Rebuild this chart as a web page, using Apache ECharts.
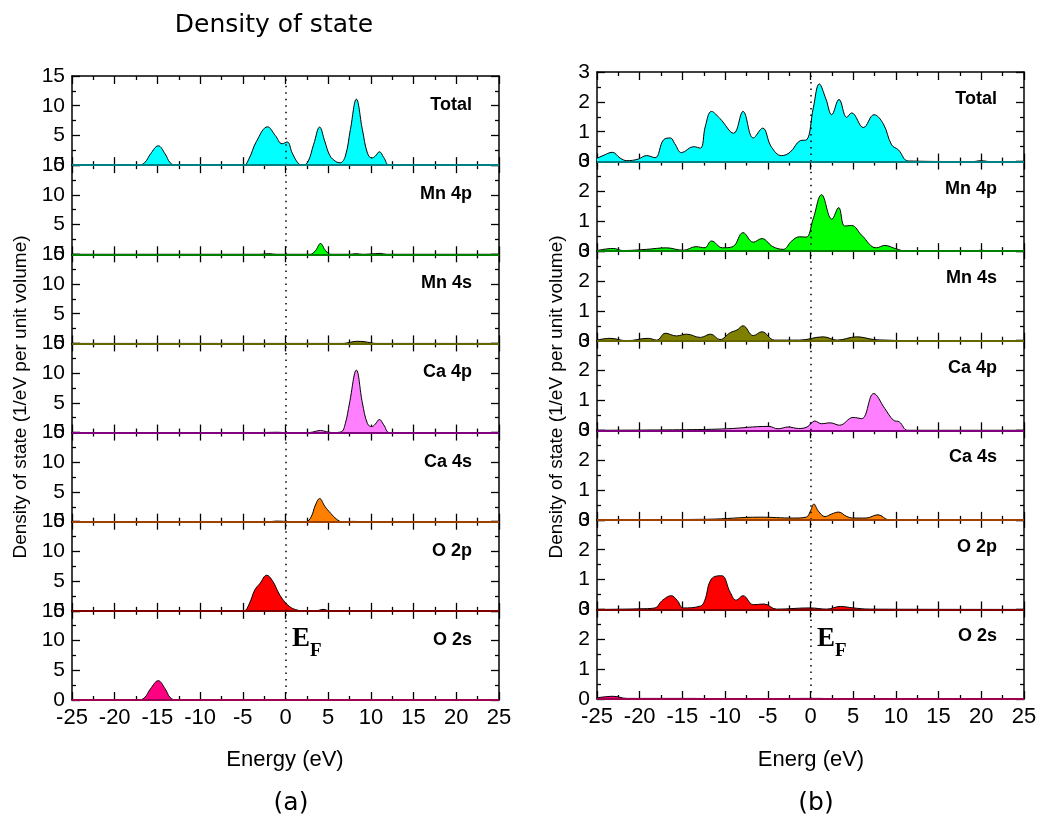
<!DOCTYPE html>
<html>
<head>
<meta charset="utf-8">
<title>Density of state</title>
<script src="https://cdn.jsdelivr.net/npm/echarts@6/dist/echarts.min.js"></script>
<style>
    html, body { margin: 0; padding: 0; background: #fff; }
    #main { width: 1043px; height: 819px; }
</style>
</head>
<body>
<div id="main"></div>
<script>
// 分波态密度 数据 ===================
var rowNames = ['Total', 'Mn 4p', 'Mn 4s', 'Ca 4p', 'Ca 4s', 'O 2p', 'O 2s']
var energyRange = [-25, 25]
var yRangeA = [0, 15]
var yRangeB = [0, 3]

// (a)
var totalA = [[-25, 0], [-17.2, 0], [-16.5, 0.4], [-15.8, 1.9], [-14.9, 3.25], [-14.1, 1.9], [-13.5, 0.4], [-12.8, 0],
    [-4.9, 0], [-4.3, 1.0], [-3.4, 4.0], [-2.1, 6.45], [-1.2, 5.0], [-0.4, 3.6], [0.2, 3.9], [0.8, 2.0], [1.5, 0.3], [2.0, 0],
    [2.6, 0.5], [3.3, 3.5], [4.0, 6.4], [4.6, 4.0], [5.2, 1.6], [5.9, 0.6], [6.4, 0.4], [7.0, 1.5], [7.6, 6.0], [8.3, 11.1],
    [9.0, 6.0], [9.6, 2.0], [10.1, 1.2], [10.5, 1.5], [11.0, 2.25], [11.5, 1.3], [12.2, 0], [25, 0]]
var mn4pA = [[-25, 0], [-3, 0], [-2, 0.1], [-1, 0], [2.9, 0], [3.5, 0.6], [4.1, 1.8], [4.7, 0.6], [5.3, 0],
    [7.5, 0], [8.3, 0.1], [9, 0], [10.5, 0.1], [11.1, 0.15], [11.8, 0], [25, 0]]
var mn4sA = [[-25, 0], [6.8, 0], [7.6, 0.2], [8.3, 0.35], [9.2, 0.3], [10, 0.1], [10.6, 0], [25, 0]]
var ca4pA = [[-25, 0], [-3, 0], [-1, 0.05], [0, 0], [2.8, 0], [3.5, 0.2], [4.1, 0.35], [4.8, 0.15], [5.5, 0],
    [6.5, 0.1], [7.0, 1.5], [7.5, 5.0], [8.3, 10.5], [9.0, 5.0], [9.6, 1.5], [10.1, 1.0], [10.5, 1.4], [11.0, 2.2],
    [11.5, 1.3], [12.2, 0], [25, 0]]
var ca4sA = [[-25, 0], [-2, 0], [-1, 0.1], [0, 0.05], [0.5, 0], [2.4, 0], [3.0, 0.8], [3.5, 2.8], [4.0, 3.9],
    [4.6, 2.6], [5.3, 1.4], [6.0, 0.4], [6.6, 0], [8, 0.05], [9, 0], [25, 0]]
var o2pA = [[-25, 0], [-4.9, 0], [-4.3, 1.0], [-3.6, 3.5], [-3.0, 4.6], [-2.2, 6.0], [-1.5, 5.0], [-0.8, 3.0],
    [-0.2, 1.7], [0.5, 0.7], [1.2, 0.2], [2.0, 0], [3.6, 0], [4.4, 0.25], [5.2, 0], [25, 0]]
var o2sA = [[-25, 0], [-17.2, 0], [-16.5, 0.4], [-15.8, 1.9], [-14.9, 3.25], [-14.1, 1.9], [-13.5, 0.4], [-12.8, 0], [25, 0]]

// (b)
var totalB = [[-25, 0.11], [-24.3, 0.2], [-23.2, 0.31], [-22.3, 0.12], [-21.5, 0.03], [-20.2, 0.08], [-19.2, 0.2],
    [-18.2, 0.13], [-17.2, 0.73], [-16.4, 0.79], [-15.9, 0.6], [-15.1, 0.3], [-13.7, 0.5], [-12.9, 0.45], [-12.3, 1.2],
    [-11.6, 1.68], [-10.6, 1.44], [-9.0, 0.95], [-7.9, 1.68], [-6.7, 0.79], [-5.6, 1.12], [-4.6, 0.5], [-3.4, 0.2],
    [-2.4, 0.31], [-1.2, 0.7], [-0.45, 0.73], [0.33, 1.8], [1.03, 2.6], [1.8, 2.1], [2.48, 1.57], [3.34, 2.08],
    [4.24, 1.48], [4.82, 1.63], [6.19, 1.14], [7.44, 1.57], [8.53, 1.26], [9.5, 0.56], [10.3, 0.39], [11.47, 0.02],
    [19, 0], [20, 0.03], [21, 0], [25, 0]]
var mn4pB = [[-25, 0.02], [-23.1, 0.09], [-22, 0.02], [-19.2, 0.06], [-16.9, 0.11], [-14.9, 0.03], [-13.4, 0.15],
    [-12.4, 0.11], [-11.6, 0.34], [-10.3, 0.11], [-9.1, 0.15], [-7.9, 0.62], [-6.7, 0.30], [-5.7, 0.42], [-4.4, 0.15],
    [-3.2, 0.06], [-2.2, 0.34], [-1.3, 0.48], [-0.5, 0.47], [0.3, 1.07], [1.3, 1.89], [2.5, 1.07], [3.3, 1.46],
    [4.0, 0.84], [4.8, 0.86], [6.0, 0.53], [7.7, 0.11], [8.7, 0.19], [10.0, 0.08], [11.2, 0], [19, 0], [20, 0.03],
    [21, 0], [25, 0]]
var mn4sB = [[-25, 0.02], [-23.5, 0.08], [-21.5, 0], [-19, 0.08], [-18, 0.02], [-17, 0.25], [-15.7, 0.16],
    [-14.5, 0.22], [-12.9, 0.11], [-11.7, 0.22], [-10.6, 0.04], [-9.4, 0.27], [-8.6, 0.36], [-7.9, 0.5], [-6.7, 0.17],
    [-5.7, 0.3], [-4.2, 0.02], [-1.3, 0.02], [1.5, 0.13], [3.1, 0.02], [5.4, 0.13], [7.4, 0.04], [8.9, 0.02],
    [11.2, 0], [25, 0]]
var ca4pB = [[-25, 0], [-14.5, 0.02], [-9.8, 0.05], [-4.9, 0.13], [-3.8, 0.05], [-2.6, 0.11], [-1.4, 0.06],
    [-0.4, 0.11], [0.5, 0.31], [1.3, 0.22], [2.3, 0.25], [3.4, 0.17], [5.0, 0.43], [6.0, 0.39], [7.4, 1.23],
    [8.7, 0.73], [9.7, 0.34], [10.4, 0.28], [11.4, 0], [25, 0]]
var ca4sB = [[-25, 0], [-12.1, 0.02], [-5.9, 0.09], [-2.0, 0.06], [-0.5, 0.09], [0, 0.3], [0.4, 0.53], [0.9, 0.3],
    [1.7, 0.11], [2.5, 0.2], [3.3, 0.26], [4.2, 0.12], [5.0, 0.06], [6.5, 0.06], [7.9, 0.17], [9.2, 0], [25, 0]]
var o2pB = [[-25, 0], [-20, 0.02], [-18.2, 0.05], [-17.4, 0.29], [-16.3, 0.46], [-15.6, 0.3], [-14.9, 0.05],
    [-12.9, 0.11], [-12.4, 0.29], [-11.6, 1.02], [-10.4, 1.13], [-9.4, 0.57], [-8.7, 0.31], [-7.9, 0.46],
    [-6.7, 0.16], [-5.4, 0.18], [-4.0, 0.01], [-0.05, 0.05], [1.9, 0.01], [3.5, 0.1], [5.0, 0.05], [7.0, 0.01], [25, 0]]
var o2sB = [[-25, 0.04], [-23.1, 0.09], [-21.5, 0.02], [-14.5, 0.02], [-9.8, 0.01], [1.1, 0.02], [3.1, 0], [25, 0]]

// 颜色: 填充 / 底线
var fills = ['#00ffff', '#00ff00', '#808000', '#ff80ff', '#ff8000', '#ff0000', '#ff0080']
var bases = ['#008080', '#008000', '#666600', '#800080', '#a04000', '#800000', '#a00050']

var panels = [
    { left: 72, top: 76, width: 427, rowH: 89.14, yRange: yRangeA, step: 5, labelRight: 472, labelDy: 29,
        data: [totalA, mn4pA, mn4sA, ca4pA, ca4sA, o2pA, o2sA] },
    { left: 597, top: 72, width: 427, rowH: 89.57, yRange: yRangeB, step: 1, labelRight: 997, labelDy: 27,
        data: [totalB, mn4pB, mn4sB, ca4pB, ca4sB, o2pB, o2sB] }
]

var font = 'Liberation Sans, Arial, sans-serif'
var grids = [], xAxes = [], yAxes = [], series = [], graphics = []

function tickSet(len) {
    return {
        axisTick: { show: true, inside: true, length: len, lineStyle: { color: '#000', width: 1.3 } },
        minorTick: { show: true, splitNumber: 2, length: len / 2, lineStyle: { color: '#000', width: 1.3 } }
    }
}

panels.forEach(function (p, pi) {
    for (var r = 0; r < 7; r++) {
        var g = grids.length
        var isLast = r === 6
        grids.push({ left: p.left, top: p.top + r * p.rowH, width: p.width, height: p.rowH, show: false })

        // 底部 x 轴
        xAxes.push(Object.assign({
            type: 'value', gridIndex: g, position: 'bottom', min: energyRange[0], max: energyRange[1], interval: 5,
            axisLine: { show: true, onZero: false, lineStyle: { color: '#000', width: 1.5 } },
            splitLine: { show: false },
            axisLabel: { show: isLast, color: '#000', fontSize: 22, fontFamily: font, margin: 7 }
        }, tickSet(8)))
        // 顶部 x 轴
        xAxes.push(Object.assign({
            type: 'value', gridIndex: g, position: 'top', min: energyRange[0], max: energyRange[1], interval: 5,
            axisLine: { show: true, onZero: false, lineStyle: { color: '#000', width: 1.5 } },
            splitLine: { show: false },
            axisLabel: { show: false }
        }, tickSet(8)))
        // 左 y 轴
        yAxes.push(Object.assign({
            type: 'value', gridIndex: g, position: 'left', min: p.yRange[0], max: p.yRange[1], interval: p.step,
            axisLine: { show: true, onZero: false, lineStyle: { color: '#000', width: 1.5 } },
            splitLine: { show: false },
            axisLabel: { color: '#000', fontSize: 21, fontFamily: font, margin: 7 }
        }, tickSet(8)))
        // 右 y 轴
        yAxes.push(Object.assign({
            type: 'value', gridIndex: g, position: 'right', min: p.yRange[0], max: p.yRange[1], interval: p.step,
            axisLine: { show: true, onZero: false, lineStyle: { color: '#000', width: 1.5 } },
            splitLine: { show: false },
            axisLabel: { show: false }
        }, tickSet(8)))

        series.push({
            type: 'line', name: rowNames[r], xAxisIndex: 2 * g, yAxisIndex: 2 * g,
            data: p.data[r], smooth: 0.4, symbol: 'none', clip: true,
            lineStyle: { color: '#000', width: 1 },
            areaStyle: { color: fills[r], opacity: 1, origin: 'start' },
            markLine: {
                silent: true, symbol: ['none', 'none'], label: { show: false }, animation: false,
                data: [
                    { xAxis: 0, lineStyle: { color: '#000', type: [1.5, 5], width: 1.5 } },
                    { yAxis: 0, lineStyle: { color: bases[r], type: 'solid', width: 2.2 } }
                ]
            }
        })

        graphics.push({
            type: 'text', x: p.labelRight, y: p.top + r * p.rowH + p.labelDy,
            style: { text: rowNames[r], font: 'bold 18px ' + font, fill: '#000',
                align: 'right', textAlign: 'right', verticalAlign: 'middle', textVerticalAlign: 'middle' }
        })
    }
})

function txt(x, y, s, f, rot, align) {
    return {
        type: 'text', x: x, y: y, rotation: rot || 0,
        style: { text: s, font: f, fill: '#000', align: align || 'center', textAlign: align || 'center',
            verticalAlign: 'middle', textVerticalAlign: 'middle' }
    }
}

graphics.push(txt(274, 25, 'Density of state', '25px DejaVu Sans, sans-serif'))
graphics.push(txt(21, 397, 'Density of state (1/eV per unit volume)', '19px ' + font, Math.PI / 2))
graphics.push(txt(557, 397, 'Density of state (1/eV per unit volume)', '19px ' + font, Math.PI / 2))
graphics.push(txt(285, 760, 'Energy (eV)', '22px ' + font))
graphics.push(txt(811, 760, 'Energ (eV)', '22px ' + font))
graphics.push(txt(291, 803, '(a)', '25px DejaVu Sans, sans-serif'))
graphics.push(txt(816, 803, '(b)', '25px DejaVu Sans, sans-serif'))
// E_F
graphics.push(txt(292, 639, 'E', 'bold 27px Liberation Serif, serif', 0, 'left'))
graphics.push(txt(310, 651, 'F', 'bold 19px Liberation Serif, serif', 0, 'left'))
graphics.push(txt(817, 639, 'E', 'bold 27px Liberation Serif, serif', 0, 'left'))
graphics.push(txt(835, 651, 'F', 'bold 19px Liberation Serif, serif', 0, 'left'))

var myChart = echarts.init(document.getElementById('main'))
myChart.setOption({
    animation: false,
    backgroundColor: '#fff',
    grid: grids,
    xAxis: xAxes,
    yAxis: yAxes,
    series: series,
    graphic: graphics
})
</script>
</body>
</html>
